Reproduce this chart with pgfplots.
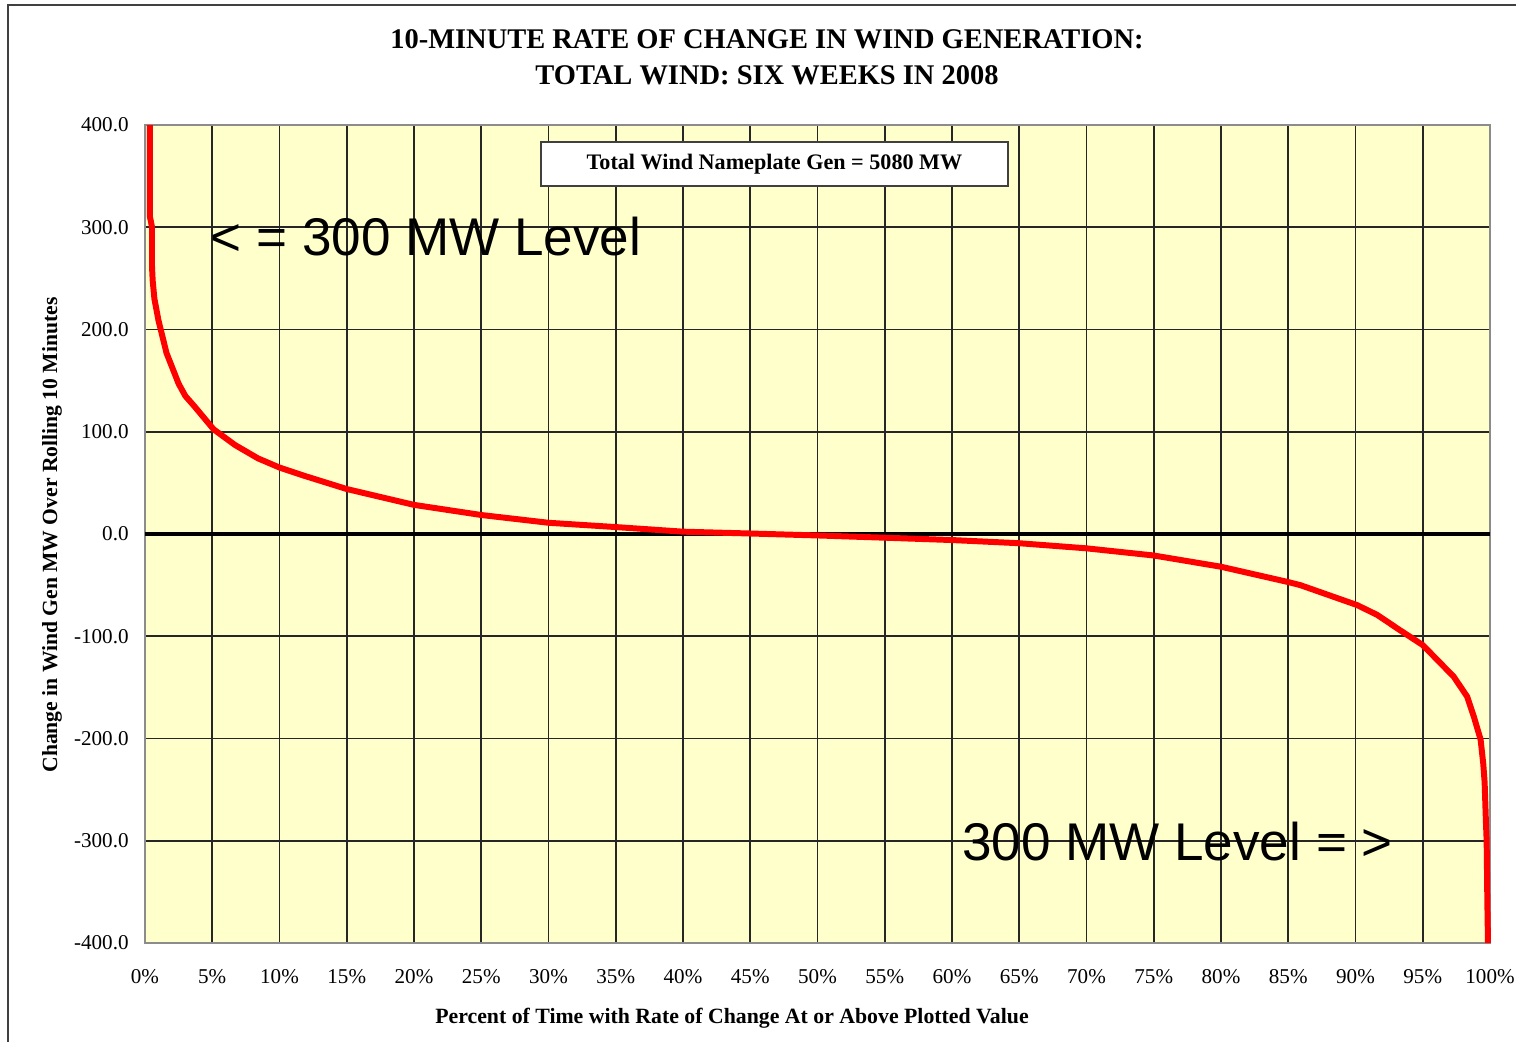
\documentclass[border=0pt]{standalone}
\usepackage{fontspec}
\setmainfont{Liberation Serif}
\newfontfamily\arialfont{Liberation Sans}
\usepackage{pgfplots}
\pgfplotsset{compat=1.18}
\definecolor{bgyellow}{HTML}{FFFFCC}
\definecolor{framegray}{HTML}{8C8C8C}

\begin{document}
\begin{tikzpicture}
\path[use as bounding box] (-1.45,-0.98) rectangle (13.71,9.43);
% outer chart frame, cut at the right and bottom edges
\draw[black!75, line width=0.5pt] (-1.37,-1.2) -- (-1.37,9.38) -- (14,9.38);

\begin{axis}[
    scale only axis,
    width=13.45cm, height=8.18cm,
    at={(0,0)}, anchor=south west,
    xmin=0, xmax=100, ymin=-400, ymax=400,
    xtick={0,5,...,100}, ytick={-400,-300,...,400},
    xticklabel={\pgfmathprintnumber{\tick}\%},
    yticklabel style={/pgf/number format/fixed, /pgf/number format/fixed zerofill,
        /pgf/number format/precision=1, /pgf/number format/1000 sep={}, xshift=-0.04cm},
    /pgf/number format/assume math mode=true,
    tick label style={font=\fontsize{6}{7}\selectfont, black},
    xticklabel style={yshift=-0.14cm},
    major tick length=0pt,
    grid=major,
    major grid style={black!85, line width=0.5pt},
    axis background/.style={fill=bgyellow},
    axis line style={framegray, line width=0.7pt},
    clip=false,
]
\addplot[black, line width=0.9pt] coordinates {(0,0) (100,0)};
\addplot[red, line width=1.7pt] coordinates {
    (0.37,400) (0.37,310) (0.45,305) (0.52,300) (0.52,262) (0.57,248)
    (0.7,230) (1.0,209) (1.6,177) (2.5,147) (3.0,135) (3.7,124.5) (5.1,102.4)
    (6.7,87) (8.4,74) (10,65) (11.9,56.7) (15,44) (20,28.5) (25,18.6) (30,11) (35,6.8)
    (40,2.3) (45,0.5) (50,-1.4) (55,-3.6) (60,-5.9) (65,-9) (70,-14)
    (75,-21) (80,-32) (85,-47) (85.9,-50) (90.1,-69.4) (91.6,-79) (93.3,-94)
    (95,-108.6) (97.3,-139.5) (98.3,-159) (98.8,-178.7) (99.3,-201)
    (99.5,-225) (99.6,-243) (99.7,-283) (99.75,-300) (99.8,-358) (99.85,-400)
};
\node[draw=black!75, fill=white, line width=0.5pt, minimum width=4.67cm,
      minimum height=0.44cm, inner sep=0pt,
      font=\fontsize{6.3}{7}\selectfont\bfseries]
    at (axis cs:46.8,362) {Total Wind Nameplate Gen = 5080 MW};
\node[anchor=west, inner sep=0pt, font=\arialfont\fontsize{15.1}{17}\selectfont]
    at (axis cs:4.83,291.4) {< = 300 MW Level};
\node[anchor=west, inner sep=0pt, font=\arialfont\fontsize{15.1}{17}\selectfont]
    at (axis cs:60.7,-301) {300 MW Level = >};
\end{axis}

\node[align=center, font=\fontsize{8.1}{10.2}\selectfont\bfseries]
    at (6.22,8.86) {10-MINUTE RATE OF CHANGE IN WIND GENERATION:\\TOTAL WIND: SIX WEEKS IN 2008};
\node[rotate=90, font=\fontsize{6.15}{7}\selectfont\bfseries]
    at (-0.93,4.08) {Change in Wind Gen MW Over Rolling 10 Minutes};
\node[font=\fontsize{6.2}{7}\selectfont\bfseries]
    at (5.87,-0.75) {Percent of Time with Rate of Change At or Above Plotted Value};
\end{tikzpicture}
\end{document}
